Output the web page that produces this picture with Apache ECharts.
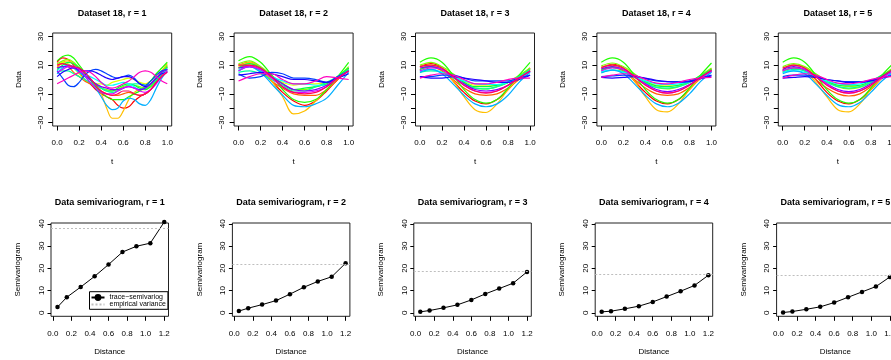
<!DOCTYPE html>
<html lang="en">
<head>
  <meta charset="UTF-8">
  <title>Dataset 18 semivariograms</title>
  <script src="https://cdn.jsdelivr.net/npm/echarts@6.0.0/dist/echarts.min.js"></script>
  <style>
    html, body { margin: 0; padding: 0; background: #fff; }
    #main { width: 891px; height: 360px; }
  </style>
</head>
<body>
<div id="main"></div>
<script>
  // ---- data ----
  var curveColors = ['#FF0000', '#FF6000', '#FFBF00', '#DFFF00', '#80FF00', '#20FF00', '#00FF40', '#00FF9F',
    '#00FFFF', '#00AFFF', '#0040FF', '#2000FF', '#8000FF', '#DF00FF', '#FF00BF', '#FF0060'];

  var tFine = [0, 0.05, 0.1, 0.15, 0.2, 0.25, 0.3, 0.35, 0.4, 0.45, 0.5, 0.55, 0.6, 0.65, 0.7, 0.75, 0.8, 0.85, 0.9, 0.95, 1];
  var tCoarse = [0, 0.1, 0.2, 0.3, 0.4, 0.5, 0.6, 0.7, 0.8, 0.9, 1];

  // r = 1 (raw, wiggly)
  var curvesR1 = [
    [12, 15, 14, 10, 5, 0, -3, -7, -10, -12, -14, -18, -20, -19, -15, -12, -10, -7, -2, 4, 9],
    [9, 11, 9, 5, 2, -1, -3, -6, -8, -10, -11, -11, -10, -9, -10, -11, -10, -7, -2, 3, 7],
    [8, 12, 13, 11, 8, 4, 0, -4, -10, -20, -27, -27, -22, -14, -9, -7, -7, -4, 1, 6, 11],
    [10, 12, 11, 8, 4, 0, -2, -3, -3, -4, -2, -1, 0, 1, 0, -2, -3, -1, 2, 5, 9],
    [11, 13, 14, 12, 8, 4, 0, -3, -6, -7, -8, -7, -5, -4, -4, -5, -6, -4, 0, 5, 10],
    [13, 16, 17, 15, 10, 5, 0, -5, -9, -12, -14, -14, -14, -12, -10, -8, -5, -1, 4, 8, 12],
    [7, 10, 12, 11, 8, 4, 0, -3, -6, -8, -8, -6, -4, -3, -4, -6, -7, -5, -1, 4, 9],
    [5, 6, 6, 4, 2, 0, -2, -4, -6, -8, -9, -8, -6, -4, -3, -3, -4, -3, 0, 4, 8],
    [6, 9, 10, 8, 5, 3, 2, 0, -2, -4, -4, -3, -2, -3, -5, -7, -6, -3, 1, 4, 7],
    [4, 8, 10, 9, 5, 2, -2, -6, -12, -18, -21, -20, -15, -13, -14, -17, -18, -14, -6, 1, 6],
    [6, 1, -4, -5, -2, 3, 6, 7, 6, 4, 2, 1, 2, 3, 1, -3, -4, -1, 3, 6, 7],
    [2, 5, 7, 8, 7, 6, 6, 5, 3, 1, 0, 1, 2, 2, 0, -3, -5, -3, 1, 4, 5],
    [8, 9, 9, 8, 6, 3, 0, -3, -5, -6, -7, -7, -6, -5, -6, -7, -6, -3, 1, 5, 7],
    [5, 7, 9, 9, 7, 3, -2, -6, -9, -10, -10, -8, -6, -5, -6, -8, -9, -7, -3, 2, 6],
    [-3, -1, 1, 3, 5, 6, 5, 2, -2, -5, -6, -5, -3, -1, 2, 5, 6, 5, 2, -1, -3],
    [10, 11, 10, 9, 8, 5, 1, -4, -8, -10, -11, -10, -8, -8, -10, -11, -10, -7, -2, 2, 5]
  ];

  var curvesR2 = [
    [10, 12, 8, -1, -9, -15, -18, -15, -8, 0, 8],
    [8, 10, 6, -1, -6, -10, -11, -11, -7, 0, 6],
    [9, 12, 8, -1, -12, -24, -22, -15, -7, 1, 7],
    [10, 11, 7, 1, -2, -4, -3, -3, -2, 2, 7],
    [11, 13, 9, 3, -3, -7, -7, -5, -3, 2, 9],
    [13, 16, 12, 3, -7, -14, -16, -14, -7, 2, 12],
    [8, 11, 8, 2, -3, -7, -6, -5, -3, 2, 8],
    [5, 6, 4, 0, -4, -8, -8, -5, -2, 2, 7],
    [7, 9, 6, 2, -1, -3, -3, -4, -4, 1, 6],
    [6, 9, 5, -3, -11, -18, -19, -17, -13, -4, 5],
    [4, 1, 2, 5, 4, 1, 1, 0, -2, 2, 6],
    [3, 4, 5, 4, 2, 0, 0, -1, -2, 1, 4],
    [8, 9, 7, 2, -3, -7, -8, -7, -4, 1, 6],
    [6, 9, 7, 1, -5, -9, -9, -8, -5, 1, 6],
    [-1, 2, 4, 4, 0, -3, -3, -1, 2, 1, 0],
    [10, 10, 8, 2, -5, -9, -10, -9, -5, 1, 6]
  ];

  var curvesR3 = [
    [9, 11, 8, -1, -9, -15, -17, -14, -7, 1, 8],
    [7, 9, 6, 0, -6, -10, -11, -10, -6, 0, 6],
    [7, 10, 7, -1, -12, -21, -23, -17, -7, 1, 7],
    [9, 10, 8, 3, -1, -4, -4, -4, -2, 2, 7],
    [10, 12, 9, 4, -2, -6, -6.5, -5, -2, 3, 8],
    [12, 15, 12, 3, -7, -14, -16.5, -14, -6, 3, 12],
    [7, 9, 7, 3, -2, -5, -5, -4, -2, 2, 7],
    [5, 6, 5, 1, -3, -6, -6.5, -5, -2, 2, 7],
    [6, 7, 5, 2, -1, -3, -3.5, -3.5, -2, 1, 5],
    [5, 7, 4, -3, -11, -17, -19, -17, -11, -2, 5],
    [2, 2, 3, 3, 1, -1, -1, -1, -1, 1, 3],
    [2, 1, 1, 2, 1, 0, -1, -2, -2, 0, 3],
    [8, 9, 7, 2, -3, -7, -8, -7, -4, 1, 6],
    [6, 8, 7, 2, -4, -8, -9, -8, -4, 1, 6],
    [1, 3, 4, 3, 0, -3, -3, -2, 0, 1, 1],
    [9, 10, 8, 2, -4, -8, -9.5, -8, -4, 1, 6]
  ];

  var curvesR4 = [
    [8, 10.5, 8, -1, -9, -15, -17, -14, -7, 1, 7.5],
    [7, 8.5, 6, 0, -6, -10, -11, -10, -5.5, 0.5, 6],
    [6, 9, 7, -1, -12, -21, -22.5, -17, -7, 1, 7],
    [8.5, 10, 8, 3, -1, -4, -4.5, -4, -2, 2, 6.5],
    [9.5, 11.5, 9, 4, -2, -5.5, -6.5, -5, -2, 3, 8],
    [12, 15, 12, 3, -7, -14, -16.5, -14, -6, 3, 11.5],
    [6.5, 8.5, 7, 3, -1.5, -4.5, -5, -4, -1.5, 2.5, 7],
    [5, 6.5, 5.5, 1.5, -2.5, -5.5, -6, -5, -2, 2, 6.5],
    [5.5, 6.5, 5, 2, -1, -3, -3.5, -3, -1.5, 1.5, 5],
    [4.5, 6.5, 4, -3, -11, -17, -19, -16.5, -10, -1.5, 5],
    [2, 2.5, 3, 2.5, 0.5, -1, -1.5, -1.5, -1, 1, 3],
    [1.5, 1, 1.5, 2, 1, -0.5, -1.5, -2, -1.5, 0.5, 2.5],
    [7.5, 9, 7, 2, -3, -7, -8.5, -7, -3.5, 1.5, 6],
    [6, 8, 7, 2, -3.5, -8, -9.5, -8, -4, 1, 6],
    [1.5, 3, 4, 3, 0, -2.5, -3, -2, 0, 1, 1.5],
    [8.5, 10, 8, 2, -4, -8, -9.5, -8, -4, 1.5, 6.5]
  ];

  var curvesR5 = [
    [7, 10, 8, 0, -9, -15, -17, -14, -7, 1, 8],
    [6, 8, 6, 0, -6, -10, -11.5, -10, -5, 1, 6],
    [5, 8, 6, -2, -12, -21, -22.5, -17, -7, 1, 7],
    [8, 10, 8, 3, -1, -4, -5, -4.5, -2, 2, 6],
    [9, 11, 9, 4, -1, -5, -6.5, -5.5, -2, 3, 8],
    [12, 15, 12, 3, -7, -14, -16.5, -14, -6, 3, 11],
    [6, 8, 7, 3, -1, -4, -4.5, -4, -1, 3, 7],
    [5, 7, 6, 2, -2, -5, -6, -5, -2, 2, 6],
    [5, 6, 5, 2, -1, -3, -3.5, -3, -1, 2, 5],
    [4, 6, 4, -3, -11, -17.5, -19, -16, -9, -1, 5],
    [2, 3, 3, 2, 0, -1, -1.5, -1.5, -0.5, 1.5, 3],
    [1, 1.5, 2, 1.5, 0, -1, -2, -2, -1, 1, 2.5],
    [7, 9, 7, 2, -3, -7, -8.5, -7, -3, 2, 6],
    [6, 8, 7, 2, -3, -8, -9.5, -8, -4, 1, 6],
    [1, 3, 4, 3, 0, -2.5, -3, -2, 0, 1.5, 2],
    [8, 10, 8, 2, -4, -8, -9.5, -8, -4, 2, 7]
  ];

  var lagDist = [0.05, 0.15, 0.3, 0.45, 0.6, 0.75, 0.9, 1.05, 1.2];
  var semiR1 = [2.6, 7.0, 11.6, 16.4, 21.7, 27.3, 29.9, 31.3, 40.8];
  var semiR2 = [0.8, 2.1, 3.7, 5.5, 8.4, 11.5, 14.1, 16.2, 22.3];
  var semiR3 = [0.45, 1.05, 2.25, 3.6, 5.8, 8.5, 10.9, 13.3, 18.4];
  var semiR4 = [0.45, 0.75, 1.8, 3.0, 4.9, 7.3, 9.7, 12.3, 16.9];
  var semiR5 = [0.15, 0.6, 1.6, 2.7, 4.6, 7.0, 9.4, 11.8, 16.1];
  var empVar = [38.0, 21.9, 18.7, 17.5, 16.8];

  var dataTicksY = [-30, -20, -10, 0, 10, 20, 30];
  var dataLabelsY = [-30, -10, 10, 30];
  var tTicks = [0, 0.2, 0.4, 0.6, 0.8, 1.0];
  var distTicks = [0, 0.2, 0.4, 0.6, 0.8, 1.0, 1.2];
  var semiTicksY = [0, 10, 20, 30, 40];

  var topTitles = ['Dataset 18, r = 1', 'Dataset 18, r = 2', 'Dataset 18, r = 3', 'Dataset 18, r = 4', 'Dataset 18, r = 5'];
  var botTitles = ['Data semivariogram, r = 1', 'Data semivariogram, r = 2', 'Data semivariogram, r = 3',
    'Data semivariogram, r = 4', 'Data semivariogram, r = 5'];
  var traceName = 'trace\u2212semivariog';
  var varName = 'empirical variance';

  // ---- layout ----
  var font = '"Liberation Sans", Arial, Helvetica, sans-serif';
  var PITCH = 181.4;
  var TOP = {left: 52.7, top: 33, width: 119, height: 93};
  var BOT = {left: 51, top: 223, width: 117.5, height: 93.3};

  window.onload = function () {
    var myChart = echarts.init(document.getElementById('main'));
    var curveSets = [curvesR1, curvesR2, curvesR3, curvesR4, curvesR5];
    var semiSets = [semiR1, semiR2, semiR3, semiR4, semiR5];

    function minusFmt(v) {
      return v < 0 ? '\u2212' + Math.abs(v) : String(v);
    }
    function fixed1(v) {
      return v.toFixed(1);
    }
    var txt = {fontFamily: font, fontSize: 8, color: '#000'};

    function makeAxis(grid, o) {
      return {
        type: 'value', gridIndex: grid, min: o.min, max: o.max,
        axisLine: {show: false, onZero: false},
        splitLine: {show: false},
        axisTick: {show: true, inside: false, length: o.tick || 4.5, lineStyle: {color: '#000', width: 1}, customValues: o.ticks},
        axisLabel: Object.assign({customValues: o.labels, formatter: o.fmt, margin: o.margin, rotate: o.rotate || 0}, txt),
        name: o.name, nameLocation: 'middle', nameGap: o.nameGap,
        nameTextStyle: txt
      };
    }
    function makeGrid(l, box) {
      return {left: l, top: box.top, width: box.width, height: box.height, show: true,
        borderColor: '#222', borderWidth: 1, backgroundColor: 'transparent', outerBoundsMode: 'none'};
    }
    function makeTitle(text, cx, top) {
      return {text: text, left: cx, top: top, textAlign: 'center', padding: 0,
        textStyle: {fontFamily: font, fontSize: 9, fontWeight: 'bold', color: '#000'}};
    }

    var grids = [], xAxes = [], yAxes = [], series = [], titles = [];

    for (var p = 0; p < 5; p++) {
      // top row (grid p): functional data
      var gl = TOP.left + PITCH * p;
      grids[p] = makeGrid(gl, TOP);
      xAxes[p] = makeAxis(p, {min: -0.04, max: 1.04, ticks: tTicks, labels: tTicks, fmt: fixed1,
        margin: 12.5, name: 't', nameGap: 32});
      yAxes[p] = makeAxis(p, {min: -32.4, max: 32.4, ticks: dataTicksY, labels: dataLabelsY, fmt: minusFmt,
        margin: 8, rotate: 90, name: 'Data', nameGap: 30});
      titles[p] = makeTitle(topTitles[p], gl + TOP.width / 2, 9);

      var ts = p === 0 ? tFine : tCoarse;
      curveSets[p].forEach(function (vals, k) {
        series.push({
          type: 'line', xAxisIndex: p, yAxisIndex: p, smooth: 0.35, symbol: 'none',
          silent: true, z: 2,
          lineStyle: {color: curveColors[k], width: 1.2},
          data: vals.map(function (v, i) { return [ts[i], v]; })
        });
      });

      // bottom row (grid p + 5): semivariograms
      var g = p + 5;
      var bl = BOT.left + PITCH * p;
      grids[g] = makeGrid(bl, BOT);
      xAxes[g] = makeAxis(g, {min: -0.02, max: 1.246, ticks: distTicks, labels: distTicks, fmt: fixed1,
        margin: 13.5, name: 'Distance', nameGap: 31.5});
      yAxes[g] = makeAxis(g, {min: -1.55, max: 40.35, ticks: semiTicksY, labels: semiTicksY, fmt: minusFmt,
        margin: 5.5, tick: 3.5, rotate: 90, name: 'Semivariogram', nameGap: 29});
      titles[g] = makeTitle(botTitles[p], bl + BOT.width / 2, 198.5);

      series.push({
        name: traceName, type: 'line', xAxisIndex: g, yAxisIndex: g, clip: false,
        symbol: 'circle', symbolSize: 4.5, z: 4,
        itemStyle: {color: '#000'},
        lineStyle: {color: '#000', width: 1},
        data: lagDist.map(function (d, i) { return [d, semiSets[p][i]]; }),
        markLine: {
          silent: true, symbol: ['none', 'none'], label: {show: false},
          lineStyle: {color: '#BEBEBE', type: [2, 2], width: 1},
          emphasis: {disabled: true},
          data: [{yAxis: empVar[p]}]
        }
      });
    }

    // legend swatch for the dotted variance line (panel r = 1 only)
    series.push({
      name: varName, type: 'line', xAxisIndex: 5, yAxisIndex: 5, symbol: 'none', data: [],
      itemStyle: {color: '#BEBEBE', opacity: 0},
      lineStyle: {color: '#BEBEBE', type: [2, 2], width: 1, opacity: 1}
    });

    myChart.setOption({
      backgroundColor: '#fff',
      animation: false,
      title: titles,
      grid: grids,
      xAxis: xAxes,
      yAxis: yAxes,
      legend: {
        data: [traceName, varName],
        orient: 'vertical',
        left: 89.5, top: 291.7,
        padding: [2.3, 2, 1.3, 1],
        itemGap: 0, itemWidth: 13, itemHeight: 8.5,
        borderColor: '#000', borderWidth: 1, borderRadius: 0,
        backgroundColor: '#fff',
        selectedMode: false,
        z: 6,
        textStyle: {fontFamily: font, fontSize: 7, color: '#000'}
      },
      series: series
    });
  };
</script>
</body>
</html>
